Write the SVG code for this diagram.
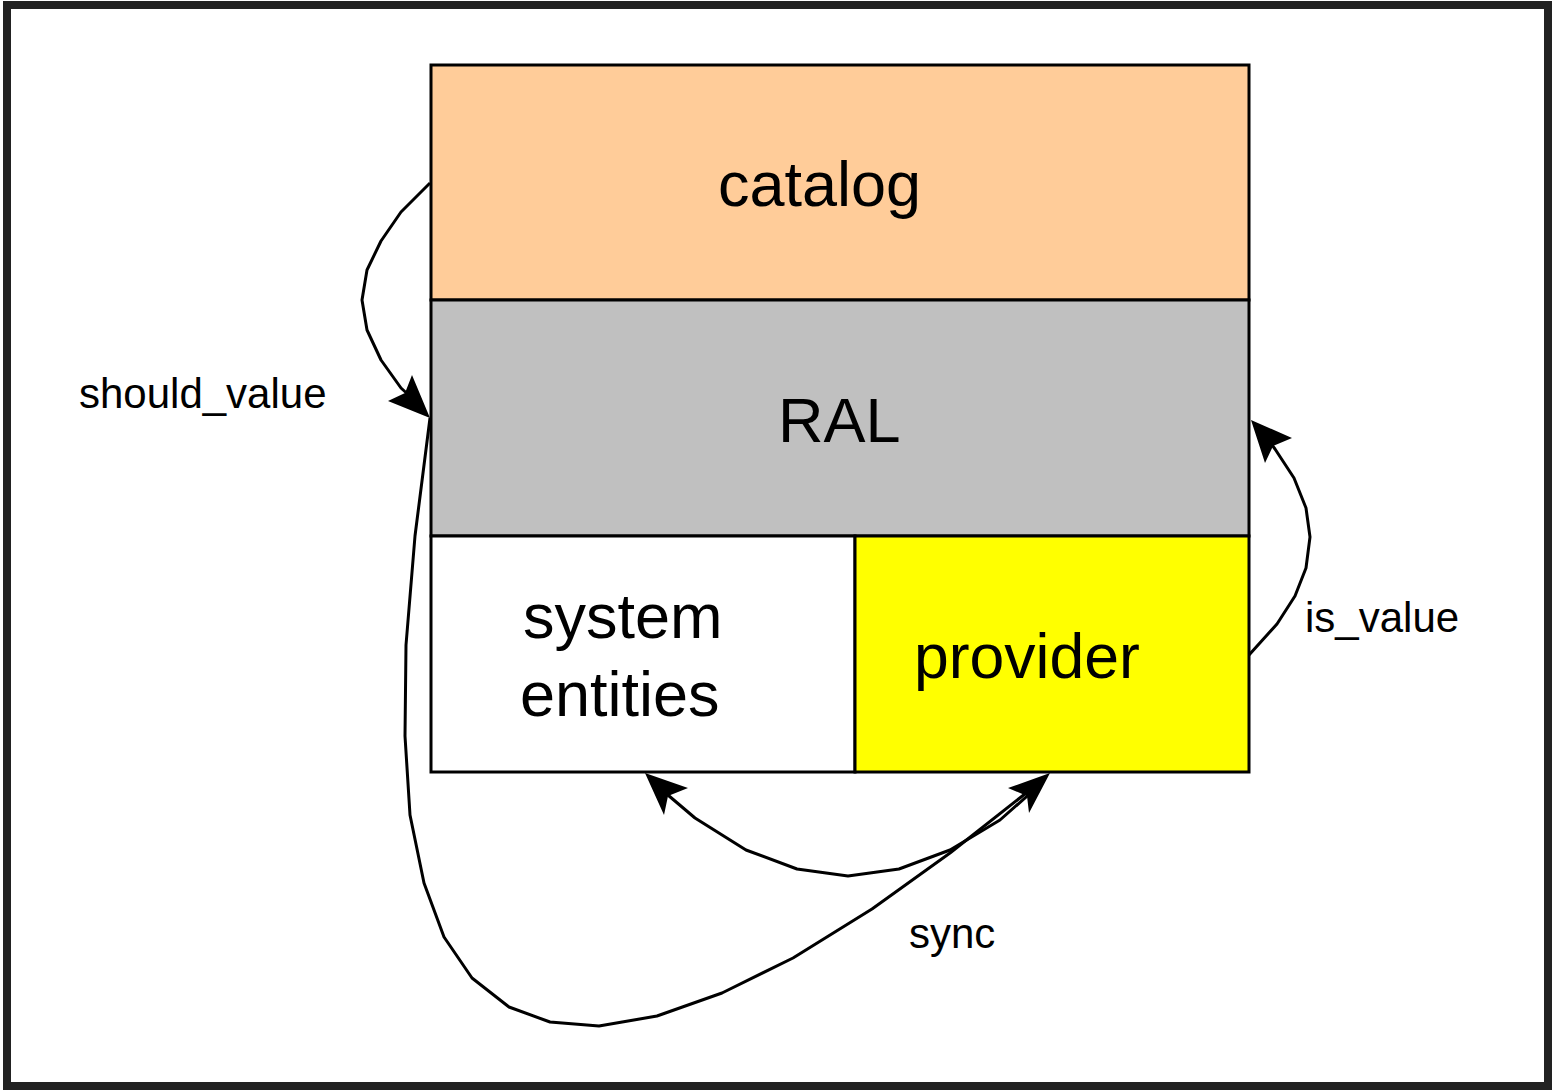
<svg xmlns="http://www.w3.org/2000/svg" width="1553" height="1091" viewBox="0 0 1553 1091">
  <style>
    .box { stroke: #000; stroke-width: 3; }
    .big { font-family: "Liberation Sans", Arial, sans-serif; font-size: 63px; fill: #000; }
    .lbl { font-family: "Liberation Sans", Arial, sans-serif; font-size: 42px; fill: #000; }
    .wire { fill: none; stroke: #000; stroke-width: 3; stroke-linejoin: round; }
    .head { fill: #000; stroke: none; }
  </style>

  <!-- page frame -->
  <rect x="0" y="0" width="1553" height="1091" fill="#fff"/>
  <rect x="7" y="5" width="1541" height="1081" fill="none" stroke="#222" stroke-width="8"/>

  <g id="catalog">
    <rect class="box" x="431" y="65" width="818" height="235" fill="#ffcc99"/>
    <text class="big" x="718" y="206">catalog</text>
  </g>
  <g id="ral">
    <rect class="box" x="431" y="300" width="818" height="236" fill="#c0c0c0"/>
    <text class="big" x="778" y="442">RAL</text>
  </g>
  <g id="system-entities">
    <rect class="box" x="431" y="536" width="424" height="236" fill="#fff"/>
    <text class="big" x="523" y="638">system</text>
    <text class="big" x="520" y="716">entities</text>
  </g>
  <g id="provider">
    <rect class="box" x="855" y="536" width="394" height="236" fill="#ffff00"/>
    <text class="big" x="914" y="678" style="font-size:62.5px">provider</text>
  </g>

  <g id="connectors">
    <!-- should_value: catalog -> RAL -->
    <polyline class="wire" points="430,183 401,212 381,241 367,270 362,300 367,330 381,360 401,388 412,398"/>
    <polygon class="head" points="430,418 388,401 405,393 412,375"/>
    <text class="lbl" x="79" y="408">should_value</text>

    <!-- is_value: provider -> RAL -->
    <polyline class="wire" points="1249,655 1277,624 1295,596 1306,568 1310,537 1306,508 1294,478 1275,449 1266,437"/>
    <polygon class="head" points="1251,420 1292,438 1273,446 1265,463"/>
    <text class="lbl" x="1305" y="632">is_value</text>

    <!-- sync: system entities <-> provider -->
    <polyline class="wire" points="662,790 695,818 746,850 797,869 848,876 899,869 950,850 1000,820 1034,790"/>
    <polygon class="head" points="645,773 688,788 668,796 664,815"/>
    <polygon class="head" points="1050,773 1008,788 1027,796 1029,813"/>

    <!-- RAL down and round to provider -->
    <polyline class="wire" points="430,418 415,536 406,645 405,736 410,815 424,883 444,937 472,978 509,1007 550,1022 599,1026 657,1016 722,993 793,958 872,909 950,853 1030,790"/>
    <text class="lbl" x="909" y="948">sync</text>
  </g>
</svg>
